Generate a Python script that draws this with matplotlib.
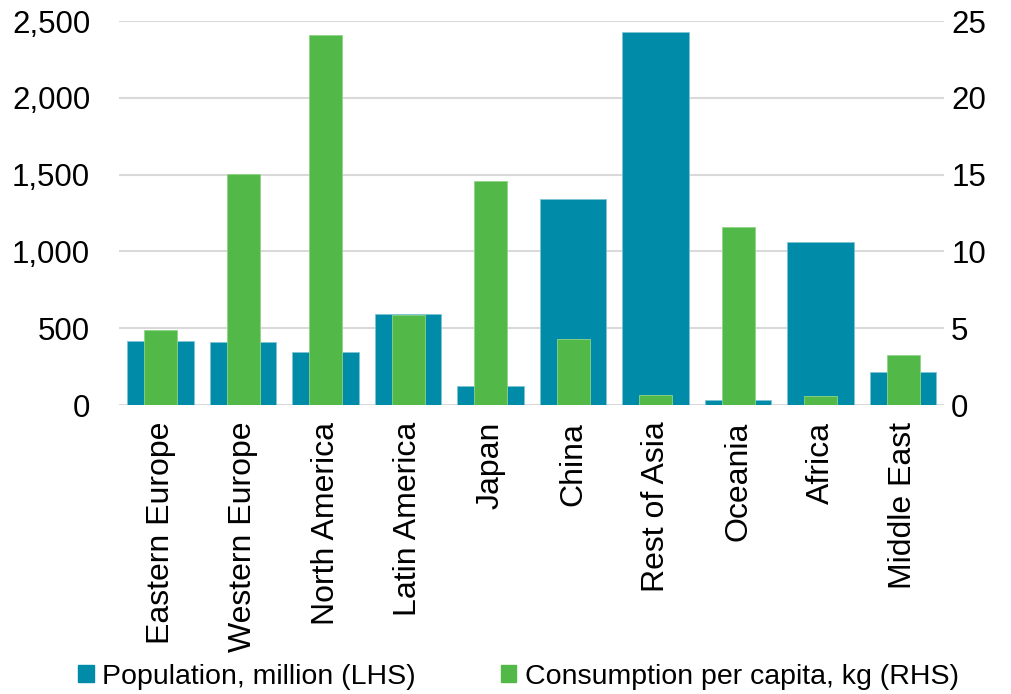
import numpy as np
import matplotlib.pyplot as plt
from matplotlib.patches import Patch
from matplotlib.ticker import FuncFormatter

plt.rcParams['font.family'] = ['Liberation Sans', 'DejaVu Sans']

regions = ['Eastern Europe', 'Western Europe', 'North America', 'Latin America', 'Japan',
           'China', 'Rest of Asia', 'Oceania', 'Africa', 'Middle East']
population = [419, 410, 345, 592, 124, 1341, 2428, 33, 1063, 215]
consumption = [4.88, 15.04, 24.09, 5.86, 14.58, 4.28, 0.65, 11.59, 0.57, 3.27]

blue = '#008ba9'
green = '#52b848'

fig = plt.figure(figsize=(10.11, 6.94), dpi=100)
ax = fig.add_axes([0.118, 0.4164, 0.816, 0.5533])
ax2 = ax.twinx()

x = np.arange(len(regions))
ax.bar(x, population, width=0.81, color=blue, edgecolor='#7fc4d4', linewidth=0.6, zorder=2)
ax2.bar(x, consumption, width=0.4, color=green, edgecolor='#8fd486', linewidth=0.6, zorder=2)

ax.set_xlim(-0.5, len(regions) - 0.5)
ax.set_ylim(0, 2500)
ax2.set_ylim(0, 25)
ax.set_yticks(np.arange(0, 2501, 500))
ax2.set_yticks(np.arange(0, 26, 5))
ax.yaxis.set_major_formatter(FuncFormatter(lambda v, p: f'{int(v):,}'))

ax.grid(axis='y', color='#d9d9d9', linewidth=1.5, zorder=0)
ax.set_axisbelow(True)
for a in (ax, ax2):
    for s in a.spines.values():
        s.set_visible(False)
    a.tick_params(length=0, labelsize=22.5, colors='black')
ax.tick_params(axis='y', pad=21)
ax2.tick_params(axis='y', pad=5)

ax.set_xticks(x)
ax.set_xticklabels(regions, rotation=90, fontsize=23)
ax.tick_params(axis='x', pad=12)

handles = [Patch(color=blue, label='Population, million (LHS)'),
           Patch(color=green, label='Consumption per capita, kg (RHS)')]
fig.legend(handles=handles, loc='center', bbox_to_anchor=(0.513, 0.025), ncol=2,
           frameon=False, fontsize=20.5, handlelength=0.53, handleheight=0.53,
           handletextpad=0.3, columnspacing=3.0, borderpad=0, borderaxespad=0)

fig.savefig('out.png', dpi=100)
